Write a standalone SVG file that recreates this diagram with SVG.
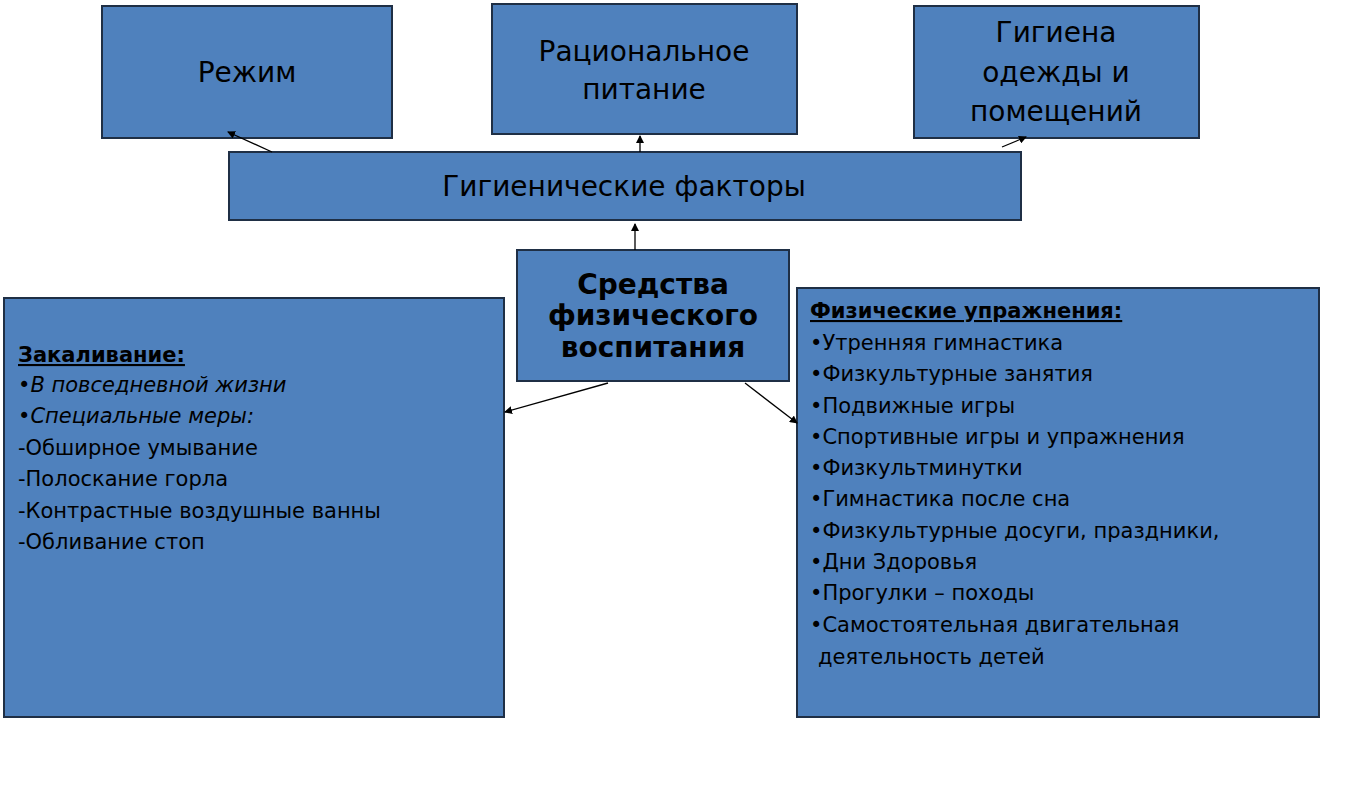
<svg xmlns="http://www.w3.org/2000/svg" width="1348" height="809" viewBox="0 0 1348 809">
<style>
.b{fill:#4f81bd;stroke:#1f2f45;stroke-width:2}
text{font-family:"DejaVu Sans","Liberation Sans",sans-serif;fill:#000}
.t{font-size:28px;text-anchor:middle}
.s{font-size:21px}
.c{stroke:#000;stroke-width:1.3;fill:none;marker-end:url(#a)}
</style>
<defs><marker id="a" markerWidth="8" markerHeight="8" refX="7" refY="4" orient="auto" markerUnits="userSpaceOnUse"><path d="M0,0L8,4L0,8z" fill="#000"/></marker></defs>
<rect width="1348" height="809" fill="#fff"/>
<g id="rezhim"><rect class="b" x="102" y="6" width="290" height="132"/><text class="t" x="247" y="82">Режим</text></g>
<g id="pitanie"><rect class="b" x="492" y="4" width="305" height="130"/><text class="t" x="644" y="61">Рациональное</text><text class="t" x="644" y="99">питание</text></g>
<g id="gigiena"><rect class="b" x="914" y="6" width="285" height="132"/><text class="t" x="1056" y="42">Гигиена</text><text class="t" x="1056" y="82">одежды и</text><text class="t" x="1056" y="121">помещений</text></g>
<g id="factors"><rect class="b" x="229" y="152" width="792" height="68"/><text class="t" x="624" y="196">Гигиенические факторы</text></g>
<g id="sredstva"><rect class="b" x="517" y="250" width="272" height="131"/><text class="t" x="653" y="294" font-weight="bold" font-size="22">Средства</text><text class="t" x="653" y="325" font-weight="bold" font-size="22">физического</text><text class="t" x="653" y="357" font-weight="bold" font-size="22">воспитания</text></g>
<g id="zakal"><rect class="b" x="4" y="298" width="500" height="419"/>
<text class="s" x="18" y="362" font-weight="bold" text-decoration="underline">Закаливание:</text>
<text class="s" x="18" y="392" font-style="italic">•В повседневной жизни</text>
<text class="s" x="18" y="423" font-style="italic">•Специальные меры:</text>
<text class="s" x="18" y="455">-Обширное умывание</text>
<text class="s" x="18" y="486">-Полоскание горла</text>
<text class="s" x="18" y="518">-Контрастные воздушные ванны</text>
<text class="s" x="18" y="549">-Обливание стоп</text>
</g>
<g id="uprazh"><rect class="b" x="797" y="288" width="522" height="429"/>
<text class="s" x="810" y="318" font-weight="bold" text-decoration="underline">Физические упражнения:</text>
<text class="s" x="810" y="350">•Утренняя гимнастика</text>
<text class="s" x="810" y="381">•Физкультурные занятия</text>
<text class="s" x="810" y="413">•Подвижные игры</text>
<text class="s" x="810" y="444">•Спортивные игры и  упражнения</text>
<text class="s" x="810" y="475">•Физкультминутки</text>
<text class="s" x="810" y="506">•Гимнастика после сна</text>
<text class="s" x="810" y="538">•Физкультурные досуги, праздники,</text>
<text class="s" x="810" y="569">•Дни Здоровья</text>
<text class="s" x="810" y="600">•Прогулки – походы</text>
<text class="s" x="810" y="632">•Самостоятельная двигательная</text>
<text class="s" x="818" y="664">деятельность детей</text>
</g>
<g id="connectors">
<line class="c" x1="272" y1="152" x2="228" y2="132"/>
<line class="c" x1="640" y1="152" x2="640" y2="136"/>
<line class="c" x1="1002" y1="147" x2="1026" y2="137"/>
<line class="c" x1="635" y1="250" x2="635" y2="224"/>
<line class="c" x1="608" y1="383" x2="505" y2="412"/>
<line class="c" x1="745" y1="383" x2="797" y2="423"/>
</g>
</svg>
